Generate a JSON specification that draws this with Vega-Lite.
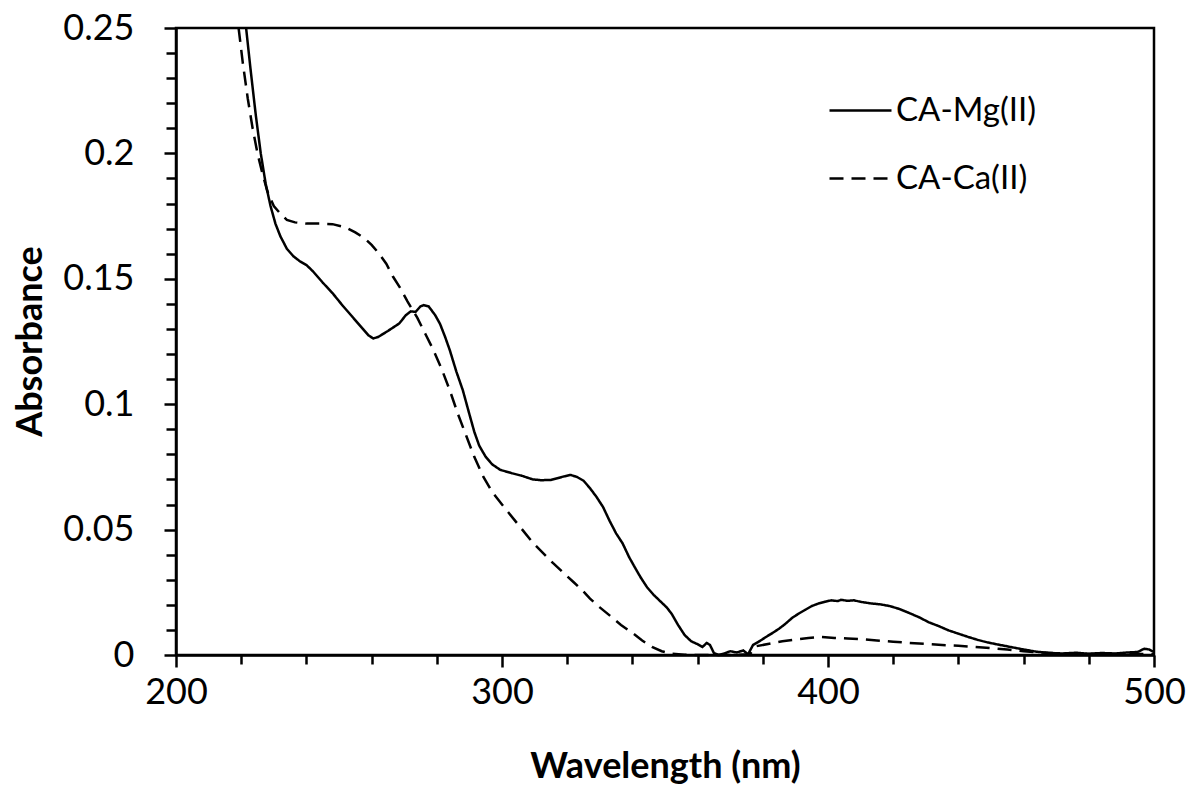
{
  "$schema": "https://vega.github.io/schema/vega-lite/v6.json",
  "width": 978,
  "height": 627,
  "autosize": {"type": "none"},
  "padding": {"left": 176, "top": 28, "right": 35, "bottom": 132},
  "background": "white",
  "config": {
    "view": {"stroke": "black", "strokeWidth": 2.5},
    "font": "Lato"
  },
  "datasets": {
    "mg": [
      [221.5,0.25],[223,0.232],[224.5,0.215],[226,0.2],[227.5,0.188],[229,0.179],[230.5,0.172],[232,0.167],[234,0.162],[236,0.159],[238,0.157],[240,0.1555],[242,0.153],[245,0.1485],[248,0.1443],[251,0.1395],[254,0.135],[257,0.1305],[259,0.1275],[260.5,0.1262],[262,0.1268],[265,0.1292],[268.5,0.1322],[270.5,0.1355],[272,0.137],[273.5,0.1368],[275,0.139],[276,0.1395],[277.5,0.139],[279.5,0.1355],[281,0.132],[282.5,0.127],[284,0.1215],[286,0.113],[288,0.1055],[290,0.096],[291.5,0.089],[293,0.0835],[295,0.079],[297,0.076],[299.5,0.0738],[303,0.0725],[306,0.0715],[309.5,0.07],[312,0.0697],[315,0.0698],[317,0.0705],[319,0.0712],[321,0.0718],[323,0.071],[325,0.0695],[327,0.0665],[329,0.063],[331,0.059],[333,0.0535],[335,0.0485],[337,0.0445],[339,0.039],[340.5,0.0355],[342.5,0.031],[344.5,0.027],[346.5,0.024],[348.5,0.0215],[350.5,0.019],[352,0.0165],[354,0.012],[356,0.008],[358,0.0055],[360,0.0043],[361.5,0.0032],[362.8,0.0048],[363.8,0.004],[365,0.0008],[366.5,0.0],[368,0.0005],[370,0.0015],[372,0.001],[374,0.0018],[375.5,0.0003],[377,0.004],[379,0.0055],[381,0.0072],[383,0.0088],[385,0.0105],[387,0.0125],[389,0.0148],[391,0.0165],[393,0.018],[395,0.0195],[397,0.0205],[399,0.0212],[401,0.0218],[403,0.0215],[404,0.022],[406,0.0216],[408,0.0218],[410,0.0212],[413,0.0206],[416,0.0202],[419,0.0195],[422,0.0183],[425,0.0167],[428,0.015],[431,0.013],[434,0.0115],[437,0.0098],[440,0.0085],[443,0.0072],[446,0.006],[449,0.005],[452,0.0042],[456,0.0032],[460,0.0022],[464,0.0013],[468,0.0008],[472,0.0006],[476,0.0009],[480,0.0005],[484,0.0008],[488,0.0006],[492,0.001],[495,0.0012],[497,0.0025],[498.5,0.0022],[500,0.0012]
    ],
    "ca": [
      [219.2,0.25],[220.5,0.236],[222,0.222],[223.5,0.21],[225,0.2],[226.5,0.192],[228,0.185],[230,0.179],[232,0.176],[234,0.1735],[236.5,0.1725],[240,0.172],[244,0.172],[248,0.1718],[252,0.1705],[255,0.1685],[258,0.166],[260,0.1635],[262,0.1605],[264.5,0.156],[266.5,0.151],[268.7,0.1465],[271,0.141],[274,0.1345],[276.5,0.128],[279,0.1215],[281.5,0.114],[284,0.1055],[286.5,0.096],[289,0.0875],[291.5,0.079],[294.3,0.071],[297,0.065],[300,0.06],[304.6,0.0526],[309.5,0.0447],[315.6,0.0367],[319.5,0.032],[322,0.029],[324.5,0.026],[327,0.0225],[330,0.019],[333,0.0158],[336.5,0.012],[340,0.0088],[343,0.0058],[346,0.0032],[349,0.0015],[352,0.0005],[356,0.0001],[362,0.0],[370,0.0],[376,0.0003],[378,0.0035],[382,0.0045],[386,0.0055],[390,0.0062],[394,0.0068],[398,0.0072],[402,0.0068],[406,0.0066],[410,0.0063],[415,0.0058],[420,0.0053],[425,0.0048],[430,0.0044],[435,0.004],[440,0.0037],[445,0.0032],[450,0.0027],[455,0.0022],[460,0.0015],[465,0.001],[470,0.0007],[475,0.0005],[480,0.0004],[490,0.0004],[500,0.0004]
    ]
  },
  "resolve": {"axis": {"x": "independent", "y": "independent"}},
  "layer": [
    {
      "data": {"name": "mg"},
      "transform": [
        {"calculate": "datum[0]", "as": "wl"},
        {"calculate": "datum[1]", "as": "abs"},
        {"calculate": "'CA-Mg(II)'", "as": "series"}
      ],
      "mark": {"type": "line", "color": "black", "strokeWidth": 2.5},
      "encoding": {
        "x": {
          "field": "wl", "type": "quantitative",
          "scale": {"domain": [200, 500], "nice": false, "zero": false},
          "axis": {
            "orient": "bottom",
            "title": null,
            "values": [220,240,260,280,320,340,360,380,420,440,460,480],
            "labels": false,
            "domain": false,
            "grid": false,
            "tickColor": "black", "tickWidth": 2.5, "tickSize": 9
          }
        },
        "y": {
          "field": "abs", "type": "quantitative",
          "scale": {"domain": [0, 0.25], "nice": false},
          "axis": {
            "orient": "left",
            "title": null,
            "values": [0.01,0.02,0.03,0.04,0.06,0.07,0.08,0.09,0.11,0.12,0.13,0.14,0.16,0.17,0.18,0.19,0.21,0.22,0.23,0.24],
            "labels": false,
            "domain": false,
            "grid": false,
            "tickColor": "black", "tickWidth": 2.5, "tickSize": 10
          }
        },
        "strokeDash": {"field": "series", "type": "nominal"}
      }
    },
    {
      "data": {"name": "ca"},
      "transform": [
        {"calculate": "datum[0]", "as": "wl"},
        {"calculate": "datum[1]", "as": "abs"},
        {"calculate": "'CA-Ca(II)'", "as": "series"}
      ],
      "mark": {"type": "line", "color": "black", "strokeWidth": 2.5},
      "encoding": {
        "x": {
          "field": "wl", "type": "quantitative",
          "scale": {"domain": [200, 500], "nice": false, "zero": false},
          "axis": {
            "orient": "bottom",
            "title": "Wavelength (nm)",
            "values": [200, 300, 400, 500],
            "labelFlush": false,
            "labelOverlap": false,
            "labelFont": "Lato", "labelFontSize": 36, "labelColor": "black",
            "labelPadding": 8,
            "tickColor": "black", "tickWidth": 2.5, "tickSize": 12,
            "domainColor": "black", "domainWidth": 2.5,
            "grid": false,
            "titleFont": "Lato", "titleFontSize": 36, "titleFontWeight": "bold", "titleColor": "black",
            "titleBaseline": "middle", "titleY": 111, "titleX": 489
          }
        },
        "y": {
          "field": "abs", "type": "quantitative",
          "scale": {"domain": [0, 0.25], "nice": false},
          "axis": {
            "orient": "left",
            "title": "Absorbance",
            "values": [0, 0.05, 0.1, 0.15, 0.2, 0.25],
            "labelExpr": "toString(datum.value)",
            "labelFlush": false,
            "labelOverlap": false,
            "labelFont": "Lato", "labelFontSize": 36, "labelColor": "black",
            "labelPadding": 30,
            "tickColor": "black", "tickWidth": 2.5, "tickSize": 12,
            "domainColor": "black", "domainWidth": 2.5,
            "grid": false,
            "titleFont": "Lato", "titleFontSize": 36, "titleFontWeight": "bold", "titleColor": "black",
            "titleBaseline": "middle", "titleAngle": -90, "titleX": -146, "titleY": 313
          }
        },
        "strokeDash": {
          "field": "series", "type": "nominal",
          "scale": {"domain": ["CA-Mg(II)", "CA-Ca(II)"], "range": [[1, 0], [14, 8]]},
          "legend": {
            "title": null,
            "orient": "none",
            "legendX": 652,
            "legendY": 50,
            "padding": 0,
            "symbolType": "stroke",
            "symbolSize": 3844,
            "symbolStrokeColor": "black",
            "symbolStrokeWidth": 2.5,
            "labelFont": "Lato", "labelFontSize": 33, "labelColor": "black",
            "labelOffset": 3,
            "rowPadding": 18
          }
        }
      }
    }
  ]
}
